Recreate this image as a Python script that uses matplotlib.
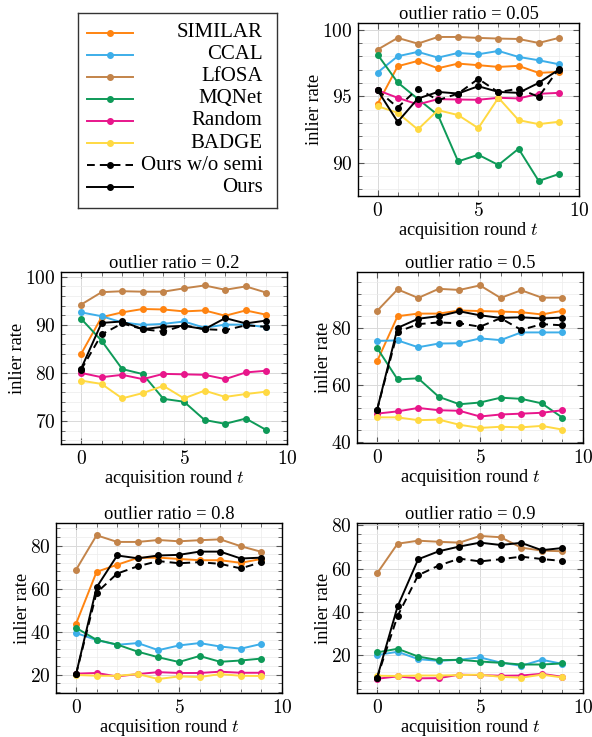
import matplotlib.pyplot as plt
import numpy as np
from matplotlib.ticker import AutoMinorLocator, FuncFormatter, MultipleLocator

plt.rcParams["font.family"] = "Liberation Serif"
plt.rcParams["mathtext.fontset"] = "cm"

rounds = np.arange(10)
methods = ["SIMILAR", "CCAL", "LfOSA", "MQNet", "Random", "BADGE", "Ours w/o semi", "Ours"]
colors = ["#ff8411", "#3daee9", "#c3844a", "#0e9a58", "#e8168b", "#ffd942", "black", "black"]
styles = ["-", "-", "-", "-", "-", "-", "--", "-"]

# inlier rate (%) per acquisition round, rows in the order of `methods`
rate_005 = [
    [94.4, 97.25, 97.65, 97.1, 97.45, 97.33, 97.2, 97.28, 96.75, 96.83],
    [96.78, 98.0, 98.33, 97.9, 98.25, 98.15, 98.4, 97.95, 97.7, 97.4],
    [98.5, 99.38, 98.95, 99.45, 99.45, 99.38, 99.33, 99.3, 99.0, 99.38],
    [98.13, 96.03, 94.8, 93.58, 90.1, 90.6, 89.83, 91.05, 88.63, 89.15],
    [95.45, 94.88, 94.38, 94.78, 94.75, 94.73, 94.88, 94.83, 95.18, 95.25],
    [94.25, 93.75, 92.5, 93.95, 93.58, 92.6, 94.88, 93.2, 92.9, 93.08],
    [95.45, 94.15, 95.57, 94.7, 95.2, 96.3, 95.3, 95.57, 94.95, 97.07],
    [95.45, 93.07, 94.82, 95.32, 95.2, 95.75, 95.32, 95.25, 96.0, 97.0],
]
rate_02 = [
    [83.9, 91.6, 92.6, 93.3, 93.2, 92.8, 93.0, 91.9, 93.0, 92.1],
    [92.6, 91.8, 90.5, 90.0, 90.2, 90.7, 89.4, 90.05, 90.05, 89.5],
    [94.2, 96.8, 97.0, 96.9, 96.9, 97.6, 98.2, 97.3, 98.0, 96.7],
    [91.3, 86.7, 80.8, 79.75, 74.6, 74.0, 70.2, 69.4, 70.5, 68.1],
    [80.0, 79.1, 79.6, 78.7, 79.8, 79.7, 79.6, 78.7, 80.1, 80.45],
    [78.4, 77.7, 74.7, 75.8, 77.3, 74.7, 76.3, 75.0, 75.6, 76.1],
    [80.6, 88.0, 90.3, 89.1, 88.6, 89.9, 89.1, 88.9, 89.9, 89.6],
    [80.8, 90.4, 90.7, 89.1, 89.6, 89.8, 89.1, 91.4, 90.3, 90.9],
]
rate_05 = [
    [68.2, 84.1, 85.0, 85.0, 86.1, 85.9, 85.7, 85.5, 84.7, 86.0],
    [75.4, 75.6, 73.2, 74.5, 74.6, 76.3, 75.7, 78.4, 78.4, 78.4],
    [85.9, 93.5, 90.5, 93.7, 93.3, 94.9, 90.5, 93.2, 90.6, 90.6],
    [73.0, 61.9, 62.3, 55.8, 53.2, 53.8, 55.5, 55.1, 53.5, 48.5],
    [49.9, 50.7, 51.9, 51.1, 50.9, 48.9, 49.6, 49.9, 50.2, 51.1],
    [48.6, 48.6, 47.6, 47.8, 46.0, 44.9, 45.3, 45.1, 45.6, 44.3],
    [51.1, 78.6, 81.3, 81.9, 81.6, 80.4, 83.4, 79.3, 81.3, 80.9],
    [51.1, 80.0, 83.2, 84.1, 85.8, 84.4, 83.5, 83.7, 83.3, 83.6],
]
rate_08 = [
    [43.6, 67.8, 71.1, 74.3, 74.4, 73.8, 73.2, 73.2, 72.0, 73.8],
    [39.4, 36.1, 33.9, 34.7, 31.4, 33.6, 34.7, 33.1, 32.1, 34.3],
    [68.7, 84.8, 81.7, 81.7, 82.6, 82.0, 82.5, 82.9, 79.7, 77.1],
    [41.8, 36.2, 34.0, 30.7, 28.1, 25.9, 28.7, 26.0, 26.6, 27.5],
    [20.5, 20.8, 19.2, 20.3, 21.2, 20.8, 20.8, 21.4, 20.9, 20.9],
    [19.9, 19.5, 19.5, 20.3, 18.0, 19.2, 18.9, 20.3, 19.5, 19.4],
    [20.1, 58.1, 67.0, 70.4, 72.8, 71.8, 72.3, 71.5, 69.4, 72.3],
    [20.1, 60.6, 75.4, 74.1, 75.4, 75.7, 77.2, 77.2, 74.0, 74.4],
]
# no SIMILAR run at ratio 0.9
rate_09 = [
    None,
    [19.9, 21.4, 18.0, 17.2, 17.7, 18.8, 16.4, 14.9, 17.7, 15.8],
    [57.7, 71.5, 72.9, 72.4, 72.0, 75.1, 74.5, 69.7, 68.3, 68.0],
    [21.1, 22.8, 19.2, 17.5, 17.7, 16.9, 16.3, 15.5, 15.5, 16.0],
    [8.9, 10.0, 9.1, 9.2, 10.8, 10.6, 10.3, 10.4, 11.2, 9.8],
    [10.3, 10.2, 10.4, 10.4, 10.6, 10.8, 9.8, 9.4, 10.8, 9.5],
    [9.2, 38.0, 56.9, 61.4, 64.6, 63.3, 64.3, 65.5, 64.4, 63.5],
    [9.2, 42.4, 64.3, 68.0, 70.2, 72.0, 70.9, 71.9, 68.5, 69.5],
]

ratios = ["0.05", "0.2", "0.5", "0.8", "0.9"]
rates = [rate_005, rate_02, rate_05, rate_08, rate_09]
ylims = [(87.5, 100.5), (65.2, 101.0), (39.6, 99.6), (11.5, 90.5), (2.3, 81.1)]
ysteps = [5, 10, 20, 20, 20]

W, H = 592, 737
# panel boxes in pixels: left, top, right, bottom
boxes = [
    (358, 23, 579, 196),
    (61, 272, 287, 444),
    (357, 272, 583, 443),
    (56, 523, 282, 693),
    (357, 523, 583, 693),
]

fig = plt.figure(figsize=(W / 100, H / 100), dpi=100)
tickfmt = FuncFormatter(lambda v, p: f"${v:g}$")

for ratio, data, ylim, ystep, (l, t, r, b) in zip(ratios, rates, ylims, ysteps, boxes):
    ax = fig.add_axes([l / W, 1 - b / H, (r - l) / W, (b - t) / H])
    for name, vals, c, ls in zip(methods, data, colors, styles):
        if vals is None:
            continue
        line, = ax.plot(rounds, vals, color=c, ls=ls, lw=1.4, marker="o", ms=4,
                        label=name)
        if ls == "--":
            line.set_dashes((4, 2.6))
    ax.set_xlim(-0.97, 10)
    ax.set_ylim(*ylim)
    ax.xaxis.set_major_locator(MultipleLocator(5))
    ax.yaxis.set_major_locator(MultipleLocator(ystep))
    ax.xaxis.set_minor_locator(AutoMinorLocator(5))
    ax.yaxis.set_minor_locator(AutoMinorLocator(5))
    ax.xaxis.set_major_formatter(tickfmt)
    ax.yaxis.set_major_formatter(tickfmt)
    ax.tick_params(which="both", direction="in", top=True, right=True,
                   color="#555555", labelsize=14, pad=4)
    ax.tick_params(which="major", length=4.5, width=0.8)
    ax.tick_params(which="minor", length=3, width=0.6)
    ax.grid(which="major", color="#d9d9d9", lw=0.7)
    ax.grid(which="minor", color="#ececec", lw=0.5)
    ax.set_axisbelow(True)
    for s in ax.spines.values():
        s.set_linewidth(1.0)
    ax.set_title(f"outlier ratio = {ratio}", fontsize=13.3, pad=3)
    ax.set_xlabel("acquisition round $t$", fontsize=13.2, labelpad=0)
    ax.set_ylabel("inlier rate", fontsize=13.2, labelpad=-1)

# legend box drawn as its own axes, text right aligned like the source
lx0, ly0, lx1, ly1 = 78, 13, 277, 208
lax = fig.add_axes([lx0 / W, 1 - ly1 / H, (lx1 - lx0) / W, (ly1 - ly0) / H])
lax.set_xlim(0, 1)
lax.set_ylim(0, 1)
lax.set_xticks([])
lax.set_yticks([])
for s in lax.spines.values():
    s.set_linewidth(1.0)
    s.set_color("#333333")
row_y = np.linspace(0.9, 0.106, len(methods))
for yy, name, c, ls in zip(row_y, methods, colors, styles):
    h, = lax.plot([0.045, 0.274], [yy, yy], color=c, ls=ls, lw=1.4)
    if ls == "--":
        h.set_dashes((4, 2.6))
    lax.plot([0.16], [yy], color=c, marker="o", ms=4)
    lax.text(0.927, yy, name, ha="right", va="center", fontsize=15)

fig.savefig("out.png", dpi=100)
